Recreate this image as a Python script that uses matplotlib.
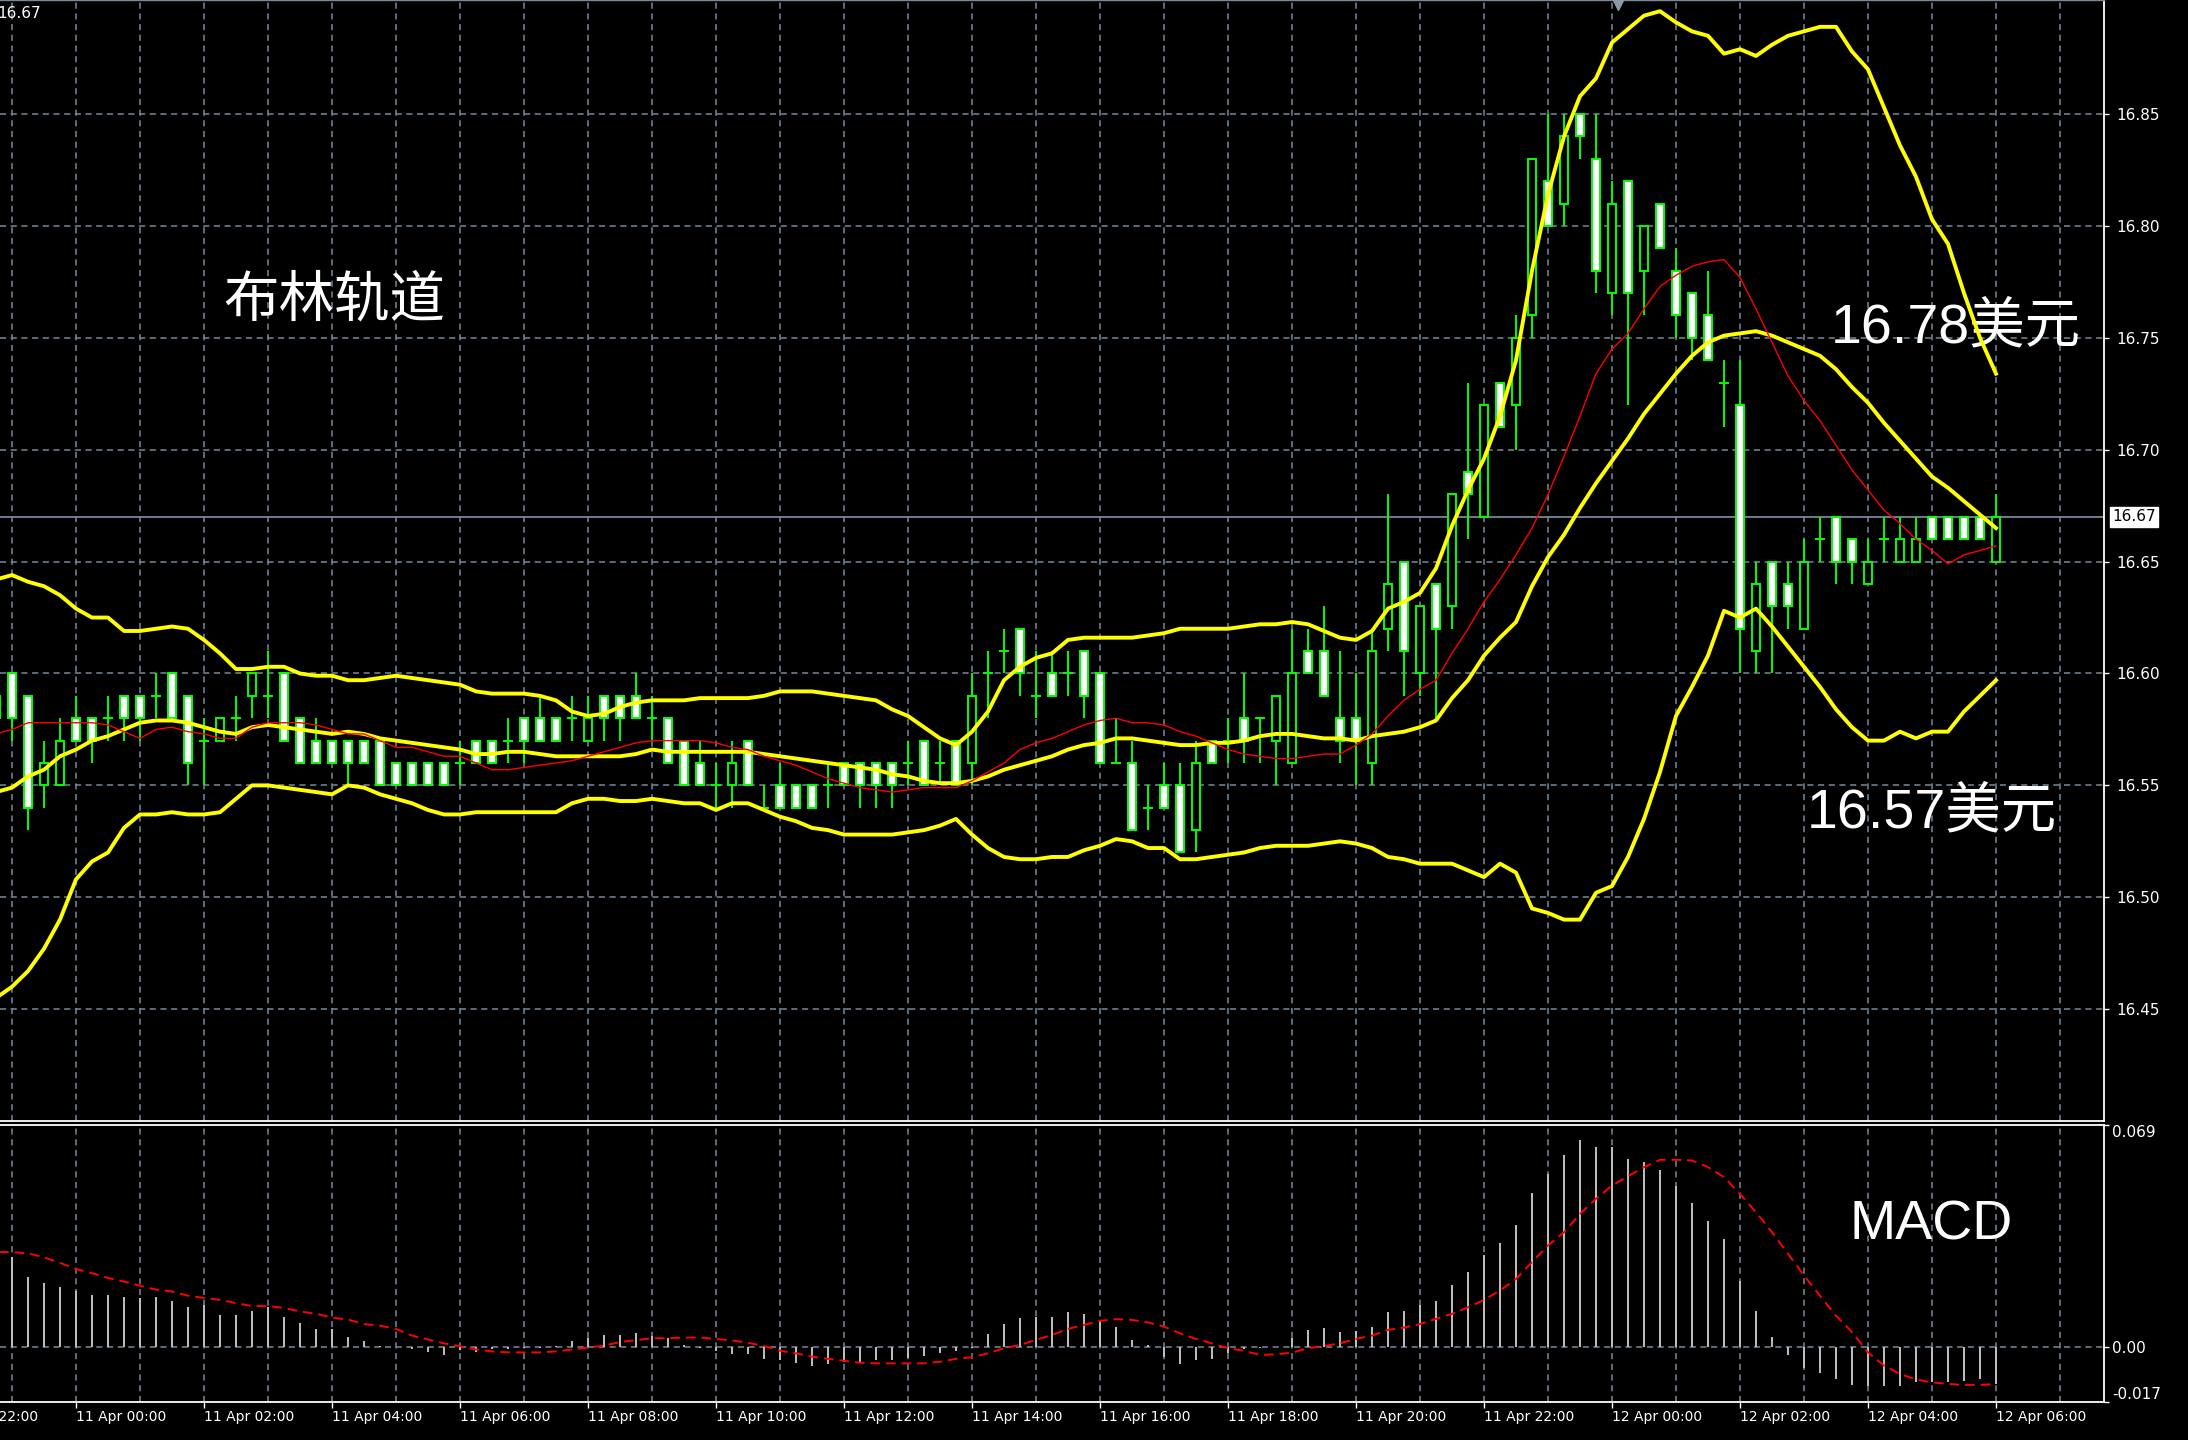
import numpy as np
import matplotlib
matplotlib.use("Agg")
import matplotlib.pyplot as plt
from matplotlib.transforms import blended_transform_factory

# 15 minute candles, the first one sits just left of the chart edge
bar_open = [16.59, 16.60, 16.59, 16.55, 16.55, 16.58, 16.58, 16.58, 16.59, 16.59,
            16.59, 16.60, 16.59, 16.57, 16.57, 16.58, 16.59, 16.59, 16.60, 16.58,
            16.57, 16.57, 16.57, 16.57, 16.57, 16.56, 16.56, 16.56, 16.56, 16.56,
            16.57, 16.57, 16.57, 16.58, 16.58, 16.58, 16.58, 16.57, 16.59, 16.59,
            16.59, 16.58, 16.58, 16.57, 16.56, 16.55, 16.55, 16.57, 16.54, 16.55,
            16.55, 16.55, 16.55, 16.56, 16.56, 16.56, 16.56, 16.56, 16.57, 16.56,
            16.57, 16.56, 16.60, 16.61, 16.62, 16.59, 16.60, 16.60, 16.61, 16.60,
            16.56, 16.56, 16.54, 16.55, 16.55, 16.53, 16.57, 16.57, 16.58, 16.58,
            16.57, 16.56, 16.61, 16.61, 16.58, 16.58, 16.56, 16.62, 16.65, 16.60,
            16.64, 16.63, 16.69, 16.67, 16.73, 16.72, 16.76, 16.82, 16.81, 16.85,
            16.83, 16.77, 16.82, 16.78, 16.81, 16.78, 16.77, 16.76, 16.73, 16.72,
            16.61, 16.65, 16.64, 16.62, 16.66, 16.67, 16.66, 16.64, 16.66, 16.65,
            16.65, 16.67, 16.67, 16.67, 16.67, 16.65]
bar_high = [16.60, 16.60, 16.59, 16.57, 16.58, 16.59, 16.58, 16.59, 16.59, 16.59,
            16.60, 16.60, 16.59, 16.58, 16.58, 16.59, 16.60, 16.61, 16.60, 16.58,
            16.58, 16.57, 16.57, 16.57, 16.57, 16.56, 16.56, 16.56, 16.56, 16.57,
            16.57, 16.57, 16.58, 16.58, 16.59, 16.58, 16.59, 16.59, 16.59, 16.59,
            16.60, 16.59, 16.58, 16.57, 16.57, 16.56, 16.57, 16.57, 16.55, 16.56,
            16.55, 16.55, 16.56, 16.56, 16.56, 16.56, 16.56, 16.57, 16.57, 16.57,
            16.57, 16.60, 16.61, 16.62, 16.62, 16.61, 16.61, 16.61, 16.61, 16.60,
            16.58, 16.57, 16.55, 16.56, 16.56, 16.57, 16.57, 16.58, 16.60, 16.58,
            16.59, 16.62, 16.62, 16.63, 16.61, 16.60, 16.62, 16.68, 16.65, 16.63,
            16.64, 16.68, 16.73, 16.72, 16.73, 16.76, 16.83, 16.85, 16.85, 16.85,
            16.85, 16.82, 16.82, 16.80, 16.81, 16.79, 16.77, 16.78, 16.74, 16.74,
            16.65, 16.65, 16.65, 16.66, 16.67, 16.67, 16.66, 16.66, 16.67, 16.67,
            16.67, 16.67, 16.67, 16.67, 16.67, 16.68]
bar_low = [16.57, 16.57, 16.53, 16.54, 16.55, 16.57, 16.56, 16.57, 16.57, 16.57,
           16.58, 16.58, 16.55, 16.55, 16.57, 16.57, 16.58, 16.58, 16.57, 16.56,
           16.56, 16.56, 16.55, 16.56, 16.55, 16.55, 16.55, 16.55, 16.55, 16.55,
           16.56, 16.56, 16.56, 16.56, 16.57, 16.57, 16.57, 16.57, 16.57, 16.57,
           16.58, 16.57, 16.56, 16.55, 16.55, 16.54, 16.54, 16.55, 16.54, 16.54,
           16.54, 16.54, 16.54, 16.55, 16.54, 16.54, 16.54, 16.55, 16.55, 16.55,
           16.55, 16.55, 16.58, 16.60, 16.59, 16.58, 16.59, 16.59, 16.58, 16.56,
           16.56, 16.53, 16.53, 16.54, 16.52, 16.52, 16.56, 16.56, 16.56, 16.56,
           16.55, 16.56, 16.60, 16.59, 16.56, 16.55, 16.55, 16.61, 16.59, 16.59,
           16.58, 16.62, 16.66, 16.67, 16.71, 16.70, 16.75, 16.80, 16.80, 16.83,
           16.77, 16.76, 16.72, 16.76, 16.79, 16.75, 16.74, 16.74, 16.71, 16.60,
           16.60, 16.60, 16.62, 16.62, 16.65, 16.64, 16.64, 16.64, 16.65, 16.65,
           16.65, 16.66, 16.66, 16.66, 16.66, 16.65]
bar_close = [16.58, 16.58, 16.54, 16.56, 16.57, 16.57, 16.57, 16.58, 16.58, 16.58,
             16.59, 16.58, 16.56, 16.57, 16.58, 16.58, 16.60, 16.59, 16.57, 16.56,
             16.56, 16.56, 16.56, 16.56, 16.55, 16.55, 16.55, 16.55, 16.55, 16.56,
             16.56, 16.56, 16.57, 16.57, 16.57, 16.57, 16.58, 16.58, 16.58, 16.58,
             16.58, 16.58, 16.56, 16.55, 16.55, 16.55, 16.56, 16.55, 16.54, 16.54,
             16.54, 16.54, 16.55, 16.55, 16.55, 16.55, 16.55, 16.56, 16.55, 16.56,
             16.55, 16.59, 16.60, 16.61, 16.60, 16.59, 16.59, 16.60, 16.59, 16.56,
             16.56, 16.53, 16.54, 16.54, 16.52, 16.56, 16.56, 16.57, 16.57, 16.58,
             16.59, 16.60, 16.60, 16.59, 16.57, 16.57, 16.61, 16.64, 16.61, 16.63,
             16.62, 16.68, 16.68, 16.72, 16.71, 16.75, 16.83, 16.80, 16.84, 16.84,
             16.78, 16.81, 16.77, 16.80, 16.79, 16.76, 16.75, 16.74, 16.73, 16.62,
             16.64, 16.63, 16.63, 16.65, 16.66, 16.65, 16.65, 16.65, 16.66, 16.66,
             16.66, 16.66, 16.66, 16.66, 16.66, 16.67]

bb_upper = [16.642, 16.644, 16.641, 16.639, 16.635, 16.629, 16.625, 16.625, 16.619, 16.619,
            16.620, 16.621, 16.620, 16.615, 16.609, 16.602, 16.602, 16.603, 16.603, 16.600,
            16.599, 16.599, 16.597, 16.597, 16.598, 16.599, 16.598, 16.597, 16.596, 16.595,
            16.592, 16.591, 16.591, 16.591, 16.590, 16.588, 16.583, 16.581, 16.582, 16.585,
            16.587, 16.588, 16.588, 16.588, 16.589, 16.589, 16.589, 16.589, 16.590, 16.592,
            16.592, 16.592, 16.591, 16.590, 16.589, 16.588, 16.584, 16.581, 16.576, 16.571,
            16.568, 16.574, 16.583, 16.597, 16.603, 16.607, 16.609, 16.615, 16.616, 16.616,
            16.616, 16.616, 16.617, 16.618, 16.620, 16.620, 16.620, 16.620, 16.621, 16.622,
            16.622, 16.623, 16.622, 16.619, 16.616, 16.615, 16.619, 16.629, 16.632, 16.636,
            16.647, 16.666, 16.682, 16.696, 16.715, 16.740, 16.780, 16.814, 16.840, 16.858,
            16.866, 16.882, 16.888, 16.894, 16.896, 16.891, 16.887, 16.885, 16.877, 16.879,
            16.876, 16.881, 16.885, 16.887, 16.889, 16.889, 16.878, 16.870, 16.853, 16.836,
            16.822, 16.803, 16.792, 16.770, 16.750, 16.734]
bb_middle = [16.547, 16.549, 16.554, 16.557, 16.563, 16.566, 16.570, 16.572, 16.575, 16.578,
             16.579, 16.579, 16.578, 16.576, 16.574, 16.573, 16.576, 16.577, 16.576, 16.575,
             16.574, 16.573, 16.574, 16.573, 16.571, 16.570, 16.569, 16.568, 16.567, 16.566,
             16.564, 16.564, 16.565, 16.565, 16.564, 16.563, 16.563, 16.563, 16.563, 16.563,
             16.564, 16.566, 16.565, 16.565, 16.565, 16.565, 16.565, 16.565, 16.564, 16.563,
             16.562, 16.561, 16.560, 16.559, 16.558, 16.557, 16.555, 16.554, 16.552, 16.551,
             16.551, 16.552, 16.554, 16.557, 16.559, 16.561, 16.563, 16.566, 16.568, 16.569,
             16.571, 16.571, 16.570, 16.569, 16.568, 16.568, 16.569, 16.569, 16.570, 16.572,
             16.573, 16.573, 16.572, 16.571, 16.571, 16.570, 16.572, 16.573, 16.574, 16.576,
             16.579, 16.589, 16.597, 16.608, 16.616, 16.623, 16.639, 16.652, 16.662, 16.674,
             16.685, 16.695, 16.705, 16.716, 16.725, 16.734, 16.742, 16.748, 16.751, 16.752,
             16.753, 16.751, 16.748, 16.745, 16.742, 16.736, 16.728, 16.721, 16.712, 16.704,
             16.696, 16.688, 16.683, 16.677, 16.671, 16.665]
bb_lower = [16.455, 16.460, 16.467, 16.477, 16.490, 16.508, 16.516, 16.520, 16.531, 16.537,
            16.537, 16.538, 16.537, 16.537, 16.538, 16.544, 16.550, 16.550, 16.549, 16.548,
            16.547, 16.546, 16.550, 16.549, 16.546, 16.544, 16.542, 16.539, 16.537, 16.537,
            16.538, 16.538, 16.538, 16.538, 16.538, 16.538, 16.542, 16.544, 16.544, 16.543,
            16.543, 16.544, 16.543, 16.542, 16.542, 16.539, 16.542, 16.542, 16.539, 16.536,
            16.534, 16.531, 16.530, 16.528, 16.528, 16.528, 16.528, 16.529, 16.530, 16.532,
            16.535, 16.528, 16.522, 16.518, 16.517, 16.517, 16.518, 16.518, 16.521, 16.523,
            16.526, 16.525, 16.522, 16.522, 16.517, 16.517, 16.518, 16.519, 16.520, 16.522,
            16.523, 16.523, 16.523, 16.524, 16.525, 16.524, 16.522, 16.518, 16.517, 16.515,
            16.515, 16.515, 16.512, 16.509, 16.515, 16.511, 16.495, 16.493, 16.490, 16.490,
            16.502, 16.505, 16.518, 16.535, 16.556, 16.581, 16.594, 16.608, 16.628, 16.625,
            16.629, 16.621, 16.612, 16.603, 16.594, 16.584, 16.576, 16.570, 16.570, 16.574,
            16.571, 16.574, 16.574, 16.583, 16.590, 16.597]
ma_red = [16.573, 16.575, 16.578, 16.578, 16.578, 16.578, 16.578, 16.577, 16.574, 16.571,
          16.575, 16.576, 16.574, 16.573, 16.571, 16.571, 16.576, 16.578, 16.578, 16.578,
          16.577, 16.575, 16.573, 16.573, 16.570, 16.567, 16.567, 16.565, 16.563, 16.563,
          16.560, 16.557, 16.557, 16.558, 16.559, 16.560, 16.561, 16.563, 16.565, 16.567,
          16.569, 16.570, 16.570, 16.570, 16.570, 16.569, 16.567, 16.566, 16.563, 16.561,
          16.559, 16.556, 16.553, 16.551, 16.549, 16.548, 16.547, 16.548, 16.549, 16.549,
          16.549, 16.552, 16.556, 16.560, 16.566, 16.569, 16.571, 16.574, 16.577, 16.579,
          16.580, 16.578, 16.578, 16.577, 16.574, 16.572, 16.569, 16.566, 16.564, 16.563,
          16.562, 16.562, 16.563, 16.564, 16.564, 16.568, 16.573, 16.581, 16.588, 16.593,
          16.597, 16.609, 16.620, 16.632, 16.642, 16.653, 16.665, 16.680, 16.697, 16.715,
          16.734, 16.745, 16.752, 16.763, 16.773, 16.778, 16.782, 16.784, 16.785, 16.777,
          16.763, 16.748, 16.733, 16.722, 16.713, 16.702, 16.691, 16.682, 16.673, 16.667,
          16.660, 16.655, 16.649, 16.653, 16.655, 16.657]

macd_main = [0.0300, 0.0279, 0.0217, 0.0200, 0.0186, 0.0174, 0.0162, 0.0162, 0.0155, 0.0152,
             0.0155, 0.0144, 0.0124, 0.0131, 0.0100, 0.0100, 0.0113, 0.0124, 0.0093, 0.0076,
             0.0057, 0.0057, 0.0032, 0.0019, 0.0005, 0.0000, -0.0007, -0.0016, -0.0024, -0.0010,
             -0.0016, -0.0007, -0.0005, -0.0003, -0.0003, 0.0005, 0.0019, 0.0028, 0.0038, 0.0038,
             0.0045, 0.0034, 0.0028, 0.0007, -0.0003, -0.0013, -0.0020, -0.0020, -0.0036, -0.0041,
             -0.0050, -0.0057, -0.0052, -0.0045, -0.0048, -0.0041, -0.0041, -0.0032, -0.0027, -0.0019,
             -0.0013, -0.0003, 0.0040, 0.0071, 0.0090, 0.0095, 0.0095, 0.0109, 0.0102, 0.0080,
             0.0064, 0.0023, 0.0007, -0.0029, -0.0052, -0.0041, -0.0036, -0.0019, -0.0006, -0.0003,
             0.0000, 0.0028, 0.0054, 0.0059, 0.0047, 0.0049, 0.0064, 0.0109, 0.0114, 0.0131,
             0.0145, 0.0194, 0.0233, 0.0287, 0.0324, 0.0380, 0.0478, 0.0538, 0.0597, 0.0642,
             0.0621, 0.0621, 0.0585, 0.0574, 0.0549, 0.0502, 0.0448, 0.0392, 0.0336, 0.0205,
             0.0113, 0.0031, -0.0024, -0.0065, -0.0080, -0.0098, -0.0117, -0.0121, -0.0121, -0.0121,
             -0.0109, -0.0107, -0.0107, -0.0104, -0.0098, -0.0114]
macd_signal = [0.0296, 0.0295, 0.0292, 0.0279, 0.0262, 0.0243, 0.0230, 0.0215, 0.0204, 0.0191,
               0.0179, 0.0173, 0.0160, 0.0153, 0.0147, 0.0137, 0.0128, 0.0128, 0.0122, 0.0111,
               0.0104, 0.0092, 0.0086, 0.0072, 0.0067, 0.0057, 0.0036, 0.0024, 0.0012, 0.0003,
               -0.0007, -0.0013, -0.0016, -0.0016, -0.0016, -0.0013, -0.0007, -0.0001, 0.0005, 0.0016,
               0.0022, 0.0028, 0.0028, 0.0030, 0.0030, 0.0026, 0.0021, 0.0014, 0.0004, -0.0011,
               -0.0019, -0.0029, -0.0036, -0.0042, -0.0048, -0.0050, -0.0050, -0.0050, -0.0050, -0.0045,
               -0.0036, -0.0031, -0.0019, -0.0003, 0.0007, 0.0023, 0.0038, 0.0057, 0.0069, 0.0082,
               0.0087, 0.0085, 0.0077, 0.0064, 0.0043, 0.0026, 0.0012, -0.0003, -0.0011, -0.0024,
               -0.0022, -0.0017, -0.0003, 0.0004, 0.0012, 0.0026, 0.0036, 0.0054, 0.0061, 0.0072,
               0.0088, 0.0104, 0.0124, 0.0147, 0.0176, 0.0212, 0.0264, 0.0316, 0.0357, 0.0414,
               0.0461, 0.0502, 0.0531, 0.0559, 0.0582, 0.0582, 0.0580, 0.0559, 0.0528, 0.0476,
               0.0419, 0.0357, 0.0290, 0.0223, 0.0160, 0.0098, 0.0047, -0.0016, -0.0057, -0.0083,
               -0.0100, -0.0109, -0.0114, -0.0117, -0.0117, -0.0114]

price_ticks = [16.45, 16.50, 16.55, 16.60, 16.65, 16.70, 16.75, 16.80, 16.85]
macd_ticks = [0.069, 0.00, -0.017]
macd_tick_labels = ['0.069', '0.00', '-0.017']
time_labels = ['10 Apr 22:00', '11 Apr 00:00', '11 Apr 02:00', '11 Apr 04:00', '11 Apr 06:00',
               '11 Apr 08:00', '11 Apr 10:00', '11 Apr 12:00', '11 Apr 14:00', '11 Apr 16:00',
               '11 Apr 18:00', '11 Apr 20:00', '11 Apr 22:00', '12 Apr 00:00', '12 Apr 02:00',
               '12 Apr 04:00', '12 Apr 06:00']
last_price = 16.67

W, H = 2188, 1440
GRID = '#778899'
GREEN = '#00ff00'
YELLOW = '#ffff00'
RED = '#ff0000'
CN = ['Liberation Sans', 'Noto Sans CJK SC']
DASH = (0, (4, 3))

fig = plt.figure(figsize=(W / 100, H / 100), dpi=100, facecolor='black')
ax = fig.add_axes([0, 319 / H, 2104 / W, 1121 / H], facecolor='black')
ax2 = fig.add_axes([0, 38 / H, 2104 / W, 277 / H], facecolor='black')

x = np.arange(len(bar_open)) - 1
o, hi, lo, c = map(np.array, (bar_open, bar_high, bar_low, bar_close))

for a in (ax, ax2):
    a.set_xlim(-0.75, 130.75)
    for g in range(0, 132, 4):          # one dashed line per hour
        a.axvline(g, color=GRID, lw=1.1, ls=DASH, zorder=1)
    a.spines['left'].set_visible(False)
    for s in ('top', 'right', 'bottom'):
        a.spines[s].set_color('white')
        a.spines[s].set_linewidth(1.3)
ax.spines['top'].set_color(GRID)
ax.spines['top'].set_linewidth(1)

# --- price panel ---
for p in price_ticks:
    ax.axhline(p, color=GRID, lw=1.1, ls=DASH, zorder=1)
ax.axhline(last_price, color=GRID, lw=1.3, zorder=2)

ax.vlines(x, lo, hi, color=GREEN, lw=1.4, zorder=3)
body = c != o
ax.bar(x[body], np.abs(c - o)[body], bottom=np.minimum(o, c)[body], width=0.5,
       color=np.where(c[body] > o[body], 'black', 'white'),
       edgecolor=GREEN, linewidth=1.4, zorder=4)
ax.hlines(o[~body], x[~body] - 0.3, x[~body] + 0.3, color=GREEN, lw=1.4, zorder=4)

for band in (bb_upper, bb_middle, bb_lower):
    ax.plot(x, band, color=YELLOW, lw=2.8, zorder=5, solid_joinstyle='round')
ax.plot(x, ma_red, color=RED, lw=1.0, zorder=6)

ax.set_ylim(16.40, 16.901)
ax.yaxis.tick_right()
ax.set_yticks(price_ticks)
ax.set_yticklabels([f'{p:.2f}' for p in price_ticks])
ax.tick_params(axis='y', colors='white', length=3.6, width=1, pad=5, labelsize=11)
ax.tick_params(axis='x', bottom=False, labelbottom=False)

ax.text(1.004, last_price, f'{last_price:.2f}',
        transform=blended_transform_factory(ax.transAxes, ax.transData),
        ha='left', va='center', fontsize=11, color='black', clip_on=False,
        bbox=dict(boxstyle='square,pad=0.15', fc='white', ec='white'))
ax.plot([100.4], [0.997], marker='v', ms=10, color='#8c9aa8', zorder=7,
        transform=blended_transform_factory(ax.transData, ax.transAxes))

ax.text(-3 / W, 1 - 14 / H, '16.67', transform=fig.transFigure, fontsize=11,
        color='white', va='center', ha='left')
ax.text(223 / W, 1 - 317 / H, '布林轨道', transform=fig.transFigure, family=CN,
        fontsize=40, color='white', va='baseline', zorder=4.5, clip_on=False)
ax.text(1831 / W, 1 - 342 / H, '16.78美元', transform=fig.transFigure, family=CN,
        fontsize=40, color='white', va='baseline', zorder=4.5, clip_on=False)
ax.text(1807 / W, 1 - 827 / H, '16.57美元', transform=fig.transFigure, family=CN,
        fontsize=40, color='white', va='baseline', zorder=4.5, clip_on=False)

# --- MACD panel ---
ax2.axhline(0, color=GRID, lw=1.1, ls=DASH, zorder=1)
ax2.vlines(x, 0, macd_main, color='#c0c0c0', lw=1.4, zorder=3)
ax2.plot(x, macd_signal, color=RED, lw=1.4, ls=(0, (5, 3)), zorder=4)
ax2.set_ylim(-0.017, 0.069)
ax2.yaxis.tick_right()
ax2.set_yticks(macd_ticks)
ax2.set_yticklabels(macd_tick_labels)
ax2.tick_params(axis='y', colors='white', length=3.6, width=1, pad=2, labelsize=11)
ylab = ax2.get_yticklabels()
ylab[0].set_va('top')
ylab[-1].set_va('bottom')

label_pos = np.arange(len(time_labels)) * 8 - 4
ax2.set_xticks(label_pos[1:])
ax2.set_xticklabels(time_labels[1:], ha='left')
ax2.tick_params(axis='x', colors='white', length=4, width=1, pad=2, labelsize=10)
ax2.annotate(time_labels[0], xy=(label_pos[0], 0),
             xycoords=blended_transform_factory(ax2.transData, ax2.transAxes),
             xytext=(0, -6), textcoords='offset points', ha='left', va='top',
             color='white', fontsize=10, annotation_clip=False)
ax2.text(1849 / W, 1 - 1239 / H, 'MACD', transform=fig.transFigure, family=CN,
         fontsize=40, color='white', va='baseline', zorder=2.5, clip_on=False)

fig.savefig('out.png', dpi=100, facecolor='black')
